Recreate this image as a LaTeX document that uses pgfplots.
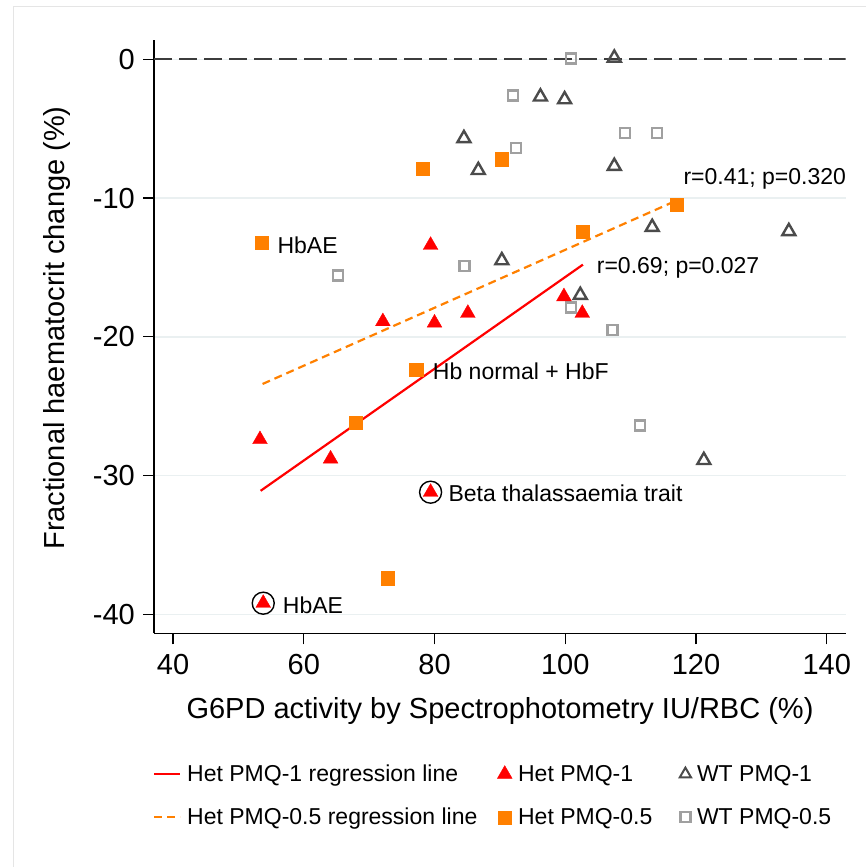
\documentclass[border=0pt]{standalone}
\usepackage{fontspec}
\setmainfont{Liberation Sans}
\usepackage{pgfplots}
\pgfplotsset{compat=1.18}
\definecolor{hetred}{RGB}{255,0,0}
\definecolor{hetorange}{RGB}{255,128,0}
\definecolor{wtdark}{RGB}{75,75,75}
\definecolor{wtlight}{RGB}{160,160,160}
\definecolor{gridc}{RGB}{234,240,241}
\definecolor{zeroc}{RGB}{60,60,60}
\newcommand{\bigfont}{\fontsize{29bp}{34bp}\selectfont}
\newcommand{\midfont}{\fontsize{23bp}{27bp}\selectfont}
\begin{document}
\begin{tikzpicture}
\path[use as bounding box] (0,0) rectangle (866bp,-867bp);
\draw[black!10, line width=1bp] (13bp,-867bp) -- (13bp,-6bp) -- (866bp,-6bp);
\begin{axis}[
  at={(154bp,-633.3bp)}, anchor=south west,
  scale only axis, width=691.7bp, height=593.3bp,
  xmin=37.09, xmax=142.9, ymin=-41.37, ymax=1.39,
  axis x line*=bottom, axis y line*=left,
  axis line style={black, line width=1.3bp},
  xtick={40,60,...,140}, ytick={-40,-30,...,0},
  tick align=outside, major tick length=11bp,
  tick style={black, line width=1.3bp},
  ymajorgrids, grid style={gridc, line width=1.5bp},
  /pgf/number format/assume math mode=true,
  ticklabel style={font=\bigfont},
  xticklabel style={inner sep=0pt, anchor=north, yshift=-10bp},
  yticklabel style={inner sep=0pt, anchor=east, xshift=-8bp},
  clip mode=individual,
  legend columns=3,
  legend style={draw=none, fill=none, font=\midfont, at={(-0.006,-0.215)}, anchor=north west,
    /tikz/every odd column/.append style={column sep=4bp},
    /tikz/every even column/.append style={column sep=18bp},
    row sep=21bp},
  legend cell align=left,
]
% zero reference line
\addplot[zeroc, line width=2bp, dash pattern=on 18bp off 7bp, forget plot] coordinates {(37.09,0) (142.9,0)};
% regression lines
\addplot[hetred, line width=2.2bp, forget plot] coordinates {(53.4,-31.1) (102.7,-14.8)};
\addplot[hetorange, line width=2.2bp, dash pattern=on 8bp off 5bp, forget plot] coordinates {(53.7,-23.4) (117.4,-10.1)};
% WT PMQ-0.5
\addplot[only marks, mark=square, mark size=5bp, wtlight, line width=2.5bp, forget plot] coordinates {
(65.2,-15.6) (84.6,-14.9) (100.9,0.07) (92.0,-2.6) (92.5,-6.4) (109.1,-5.3) (114.0,-5.3) (100.9,-17.9) (107.2,-19.5) (111.4,-26.4)};
% WT PMQ-1
\addplot[only marks, mark=triangle, mark size=7.5bp, wtdark, line width=2.4bp, forget plot] coordinates {
(84.5,-5.7) (86.7,-8.0) (107.5,0.1) (96.2,-2.7) (99.9,-2.9) (107.5,-7.7) (113.3,-12.1) (134.2,-12.4) (90.3,-14.5) (102.3,-17.0) (121.2,-28.9)};
% Het PMQ-0.5
\addplot[only marks, mark=square*, mark size=6.6bp, hetorange, forget plot] coordinates {
(53.6,-13.2) (78.2,-7.9) (90.3,-7.2) (102.7,-12.4) (117.1,-10.5) (77.2,-22.4) (67.9,-26.2) (72.8,-37.4)};
% Het PMQ-1
\addplot[only marks, mark=triangle*, mark size=8.5bp, hetred, forget plot] coordinates {
(53.3,-27.4) (64.1,-28.8) (72.1,-18.9) (79.4,-13.4) (80.0,-19.0) (85.1,-18.3) (99.8,-17.1) (102.6,-18.3) (79.4,-31.2) (53.8,-39.2)};
% circled cases
\addplot[only marks, mark=o, mark size=11bp, black, line width=1.4bp, forget plot] coordinates {(79.4,-31.2) (53.8,-39.2)};
% annotations
\node[font=\midfont, anchor=base west, inner sep=0pt] at (axis cs:55.96,-13.98) {HbAE};
\node[font=\midfont, anchor=base west, inner sep=0pt] at (axis cs:79.73,-23.06) {Hb normal + HbF};
\node[font=\midfont, anchor=base west, inner sep=0pt] at (axis cs:82.11,-31.88) {Beta thalassaemia trait};
\node[font=\midfont, anchor=base west, inner sep=0pt] at (axis cs:56.78,-39.93) {HbAE};
\node[font=\midfont, anchor=base west, inner sep=0pt] at (axis cs:118.07,-9.01) {r=0.41; p=0.320};
\node[font=\midfont, anchor=base west, inner sep=0pt] at (axis cs:104.81,-15.47) {r=0.69; p=0.027};
% legend
\addlegendimage{hetred, line width=2.2bp, legend image code/.code={\draw (0bp,0bp) -- (26bp,0bp);}}
\addlegendentry{Het PMQ-1 regression line}
\addlegendimage{hetred, only marks, mark=triangle*, mark size=8.5bp, legend image code/.code={\draw plot coordinates {(0bp,0bp)};}}
\addlegendentry{Het PMQ-1}
\addlegendimage{wtdark, only marks, mark=triangle, mark size=6.5bp, line width=2bp, legend image code/.code={\path (-12bp,0bp); \draw plot coordinates {(0bp,0bp)};}}
\addlegendentry{WT PMQ-1}
\addlegendimage{hetorange, line width=2.2bp, dash pattern=on 8bp off 5bp, legend image code/.code={\draw (0bp,0bp) -- (26bp,0bp);}}
\addlegendentry{Het PMQ-0.5 regression line}
\addlegendimage{hetorange, only marks, mark=square*, mark size=6.5bp, legend image code/.code={\draw plot coordinates {(0bp,0bp)};}}
\addlegendentry{Het PMQ-0.5}
\addlegendimage{wtlight, only marks, mark=square, mark size=5bp, line width=2.2bp, legend image code/.code={\path (-12bp,0bp); \draw plot coordinates {(0bp,0bp)};}}
\addlegendentry{WT PMQ-0.5}
\end{axis}
\node[font=\bigfont] at (500bp,-711bp) {G6PD activity by Spectrophotometry IU/RBC (\%)};
\node[font=\bigfont, rotate=90] at (57bp,-328bp) {Fractional haematocrit change (\%)};
\end{tikzpicture}
\end{document}
